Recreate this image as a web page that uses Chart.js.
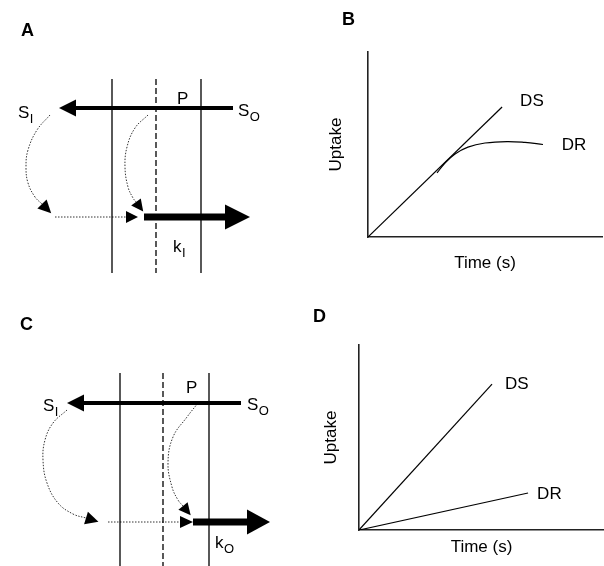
<!DOCTYPE html>
<html lang="en">
<head>
    <meta charset="UTF-8">
    <title>Uptake: DS vs DR</title>
    <script src="https://cdn.jsdelivr.net/npm/chart.js"></script>
    <style>
        body {
            margin: 0;
            background: #ffffff;
        }
        #wrap {
            position: relative;
            width: 604px;
            height: 566px;
        }
        .panel {
            position: absolute;
        }
    </style>
</head>
<body>
<div id="wrap">
    <canvas id="panelA" class="panel" width="300" height="283" style="left:0;top:0"></canvas>
    <canvas id="panelB" class="panel" width="304" height="283" style="left:300px;top:0"></canvas>
    <canvas id="panelC" class="panel" width="300" height="283" style="left:0;top:283px"></canvas>
    <canvas id="panelD" class="panel" width="304" height="283" style="left:300px;top:283px"></canvas>
</div>
<script>
    // ---- panel A: membrane schematic (diagram units, y grows downward) ----
    const aMembraneX = [112, 156, 201];      // inner, dashed middle, outer
    const aMembraneY = [79, 273];
    const aInflowX = [233, 76], aInflowY = [108, 108];     // S_O -> S_I
    const aEffluxX = [144, 225], aEffluxY = [217, 217];    // k_I
    const aDotX = [55, 126], aDotY = [217, 217];
    const aLoopX = [50, 37, 28, 26, 28, 35, 42];
    const aLoopY = [115, 130, 150, 167, 183, 197, 204];
    const aBindX = [148, 135, 127, 125, 128, 133, 136];
    const aBindY = [115, 128, 147, 167, 187, 198, 202];

    // ---- panel C ----
    const cMembraneX = [120, 163, 209];
    const cMembraneY = [90, 283];
    const cInflowX = [241, 84], cInflowY = [120, 120];
    const cEffluxX = [193, 247], cEffluxY = [239, 239];    // k_O
    const cDotX = [108, 180], cDotY = [239, 239];
    const cLoopX = [67, 53, 45, 43, 47, 58, 73, 86];
    const cLoopY = [127, 140, 157, 177, 200, 220, 231, 235];
    const cBindX = [198, 187, 173, 168, 172, 178, 183];
    const cBindY = [120, 134, 154, 180, 204, 217, 223];

    // ---- panel B: uptake vs time ----
    const bTimeDS = [0, 5.73], bUptakeDS = [0, 7.03];
    const bTimeDR = [2.95, 3.29, 3.72, 4.27, 5.0, 5.94, 6.71, 7.48];
    const bUptakeDR = [3.46, 4.0, 4.49, 4.86, 5.08, 5.16, 5.11, 5.0];

    // ---- panel D ----
    const dTimeDS = [0, 5.43], dUptakeDS = [0, 7.89];
    const dTimeDR = [0, 6.9], dUptakeDR = [0, 2.0];

    const seriesNames = ['DS', 'DR'];

    Chart.defaults.font.family = '"Liberation Sans", Arial, sans-serif';
    Chart.defaults.color = '#000';

    function zip(xs, ys) {
        return xs.map((x, i) => ({ x: x, y: ys[i] }));
    }

    function line(xs, ys, width, extra) {
        return Object.assign({
            data: zip(xs, ys),
            showLine: true,
            borderColor: '#000',
            borderWidth: width,
            pointRadius: 0,
            fill: false,
            tension: 0
        }, extra || {});
    }

    function dotted(xs, ys, head, curved) {
        return line(xs, ys, 1, {
            borderColor: '#333',
            borderDash: [1.5, 1.5],
            tension: curved ? 0.4 : 0,
            head: head
        });
    }

    // arrow heads, labels with subscripts, panel letters
    const diagramPlugin = {
        id: 'diagram',
        afterDatasetsDraw(chart, args, opts) {
            const ctx = chart.ctx;
            chart.data.datasets.forEach((ds, i) => {
                if (!ds.head) return;
                const pts = chart.getDatasetMeta(i).data;
                const a = pts[pts.length - 2], b = pts[pts.length - 1];
                const dx = b.x - a.x, dy = b.y - a.y, d = Math.hypot(dx, dy);
                const ux = dx / d, uy = dy / d;
                const len = ds.head[0], half = ds.head[1];
                ctx.save();
                ctx.fillStyle = '#000';
                ctx.beginPath();
                ctx.moveTo(b.x + ux * len, b.y + uy * len);
                ctx.lineTo(b.x - uy * half, b.y + ux * half);
                ctx.lineTo(b.x + uy * half, b.y - ux * half);
                ctx.closePath();
                ctx.fill();
                ctx.restore();
            });

            const family = Chart.defaults.font.family;
            ctx.save();
            ctx.fillStyle = '#000';
            (opts.labels || []).forEach(l => {
                const px = chart.scales.x.getPixelForValue(l.x);
                const py = chart.scales.y.getPixelForValue(l.y);
                ctx.font = (l.size || 17) + 'px ' + family;
                ctx.textAlign = 'left';
                ctx.textBaseline = l.sub ? 'alphabetic' : 'middle';
                ctx.fillText(l.text, px, py);
                if (l.sub) {
                    const w = ctx.measureText(l.text).width;
                    ctx.font = '13px ' + family;
                    ctx.fillText(l.sub, px + w + 0.5, py + 5);
                }
            });
            if (opts.tag) {
                ctx.font = 'bold 18px ' + family;
                ctx.textAlign = 'left';
                ctx.textBaseline = 'alphabetic';
                ctx.fillText(opts.tag.text, opts.tag.x, opts.tag.y);
            }
            ctx.restore();
        }
    };

    function membranes(xs, ys) {
        return xs.map((x, i) => line([x, x], ys, 1.3, i === 1 ? { borderDash: [6, 3] } : {}));
    }

    function diagram(id, sets, labels, tag) {
        return new Chart(document.getElementById(id), {
            type: 'scatter',
            data: { datasets: sets },
            options: {
                responsive: false,
                animation: false,
                events: [],
                layout: { padding: 0 },
                scales: {
                    x: { type: 'linear', display: false, min: 0, max: 300 },
                    y: { type: 'linear', display: false, min: 0, max: 283, reverse: true }
                },
                plugins: {
                    legend: { display: false },
                    tooltip: { enabled: false },
                    diagram: { labels: labels, tag: tag }
                }
            },
            plugins: [diagramPlugin]
        });
    }

    function graph(id, sets, labels, tag, box) {
        const titleFont = { size: 17, lineHeight: 1.2 };
        return new Chart(document.getElementById(id), {
            type: 'scatter',
            data: { datasets: sets },
            options: {
                responsive: false,
                animation: false,
                events: [],
                layout: { padding: { top: box.top, right: box.right, left: 0, bottom: 0 } },
                scales: {
                    x: {
                        type: 'linear', min: 0, max: 10,
                        ticks: { display: false },
                        grid: { display: false },
                        border: { color: '#222', width: 1.6 },
                        title: { display: true, text: 'Time (s)', font: titleFont, padding: { top: 0, bottom: box.xPad } },
                        afterFit: s => { s.height = box.xh; }
                    },
                    y: {
                        type: 'linear', min: 0, max: 10,
                        ticks: { display: false },
                        grid: { display: false },
                        border: { color: '#222', width: 1.6 },
                        title: { display: true, text: 'Uptake', font: titleFont, padding: { top: box.yPad, bottom: 0 } },
                        afterFit: s => { s.width = box.yw; }
                    }
                },
                plugins: {
                    legend: { display: false },
                    tooltip: { enabled: false },
                    diagram: { labels: labels, tag: tag }
                }
            },
            plugins: [diagramPlugin]
        });
    }

    diagram('panelA', [
        ...membranes(aMembraneX, aMembraneY),
        line(aInflowX, aInflowY, 4, { head: [17, 8.5] }),
        line(aEffluxX, aEffluxY, 7, { head: [25, 12.5] }),
        dotted(aDotX, aDotY, [12, 6], false),
        dotted(aLoopX, aLoopY, [13, 6.5], true),
        dotted(aBindX, aBindY, [12, 6], true)
    ], [
        { x: 18, y: 118, text: 'S', sub: 'I' },
        { x: 177, y: 104, text: 'P', sub: ' ' },
        { x: 238, y: 116, text: 'S', sub: 'O' },
        { x: 173, y: 252, text: 'k', sub: 'I' }
    ], { text: 'A', x: 21, y: 36 });

    diagram('panelC', [
        ...membranes(cMembraneX, cMembraneY),
        line(cInflowX, cInflowY, 4, { head: [17, 8.5] }),
        line(cEffluxX, cEffluxY, 7, { head: [23, 12.5] }),
        dotted(cDotX, cDotY, [13, 6], false),
        dotted(cLoopX, cLoopY, [13, 6.5], true),
        dotted(cBindX, cBindY, [12, 6], true)
    ], [
        { x: 43, y: 128, text: 'S', sub: 'I' },
        { x: 186, y: 110, text: 'P', sub: ' ' },
        { x: 247, y: 127, text: 'S', sub: 'O' },
        { x: 215, y: 265, text: 'k', sub: 'O' }
    ], { text: 'C', x: 20, y: 47 });

    graph('panelB', [
        line(bTimeDS, bUptakeDS, 1.2),
        line(bTimeDR, bUptakeDR, 1.2, { tension: 0.4 })
    ], [
        { x: 6.5, y: 7.35, text: seriesNames[0], size: 17 },
        { x: 8.28, y: 4.97, text: seriesNames[1], size: 17 }
    ], { text: 'B', x: 42, y: 25 }, { top: 52, right: 2, yw: 68, xh: 46, yPad: 26.3, xPad: 9.3 });

    graph('panelD', [
        line(dTimeDS, dUptakeDS, 1.2),
        line(dTimeDR, dUptakeDR, 1.2)
    ], [
        { x: 5.96, y: 7.89, text: seriesNames[0], size: 17 },
        { x: 7.27, y: 1.95, text: seriesNames[1], size: 17 }
    ], { text: 'D', x: 13, y: 39 }, { top: 62, right: 0, yw: 59, xh: 36, yPad: 20.8, xPad: 8.3 });
</script>
</body>
</html>
